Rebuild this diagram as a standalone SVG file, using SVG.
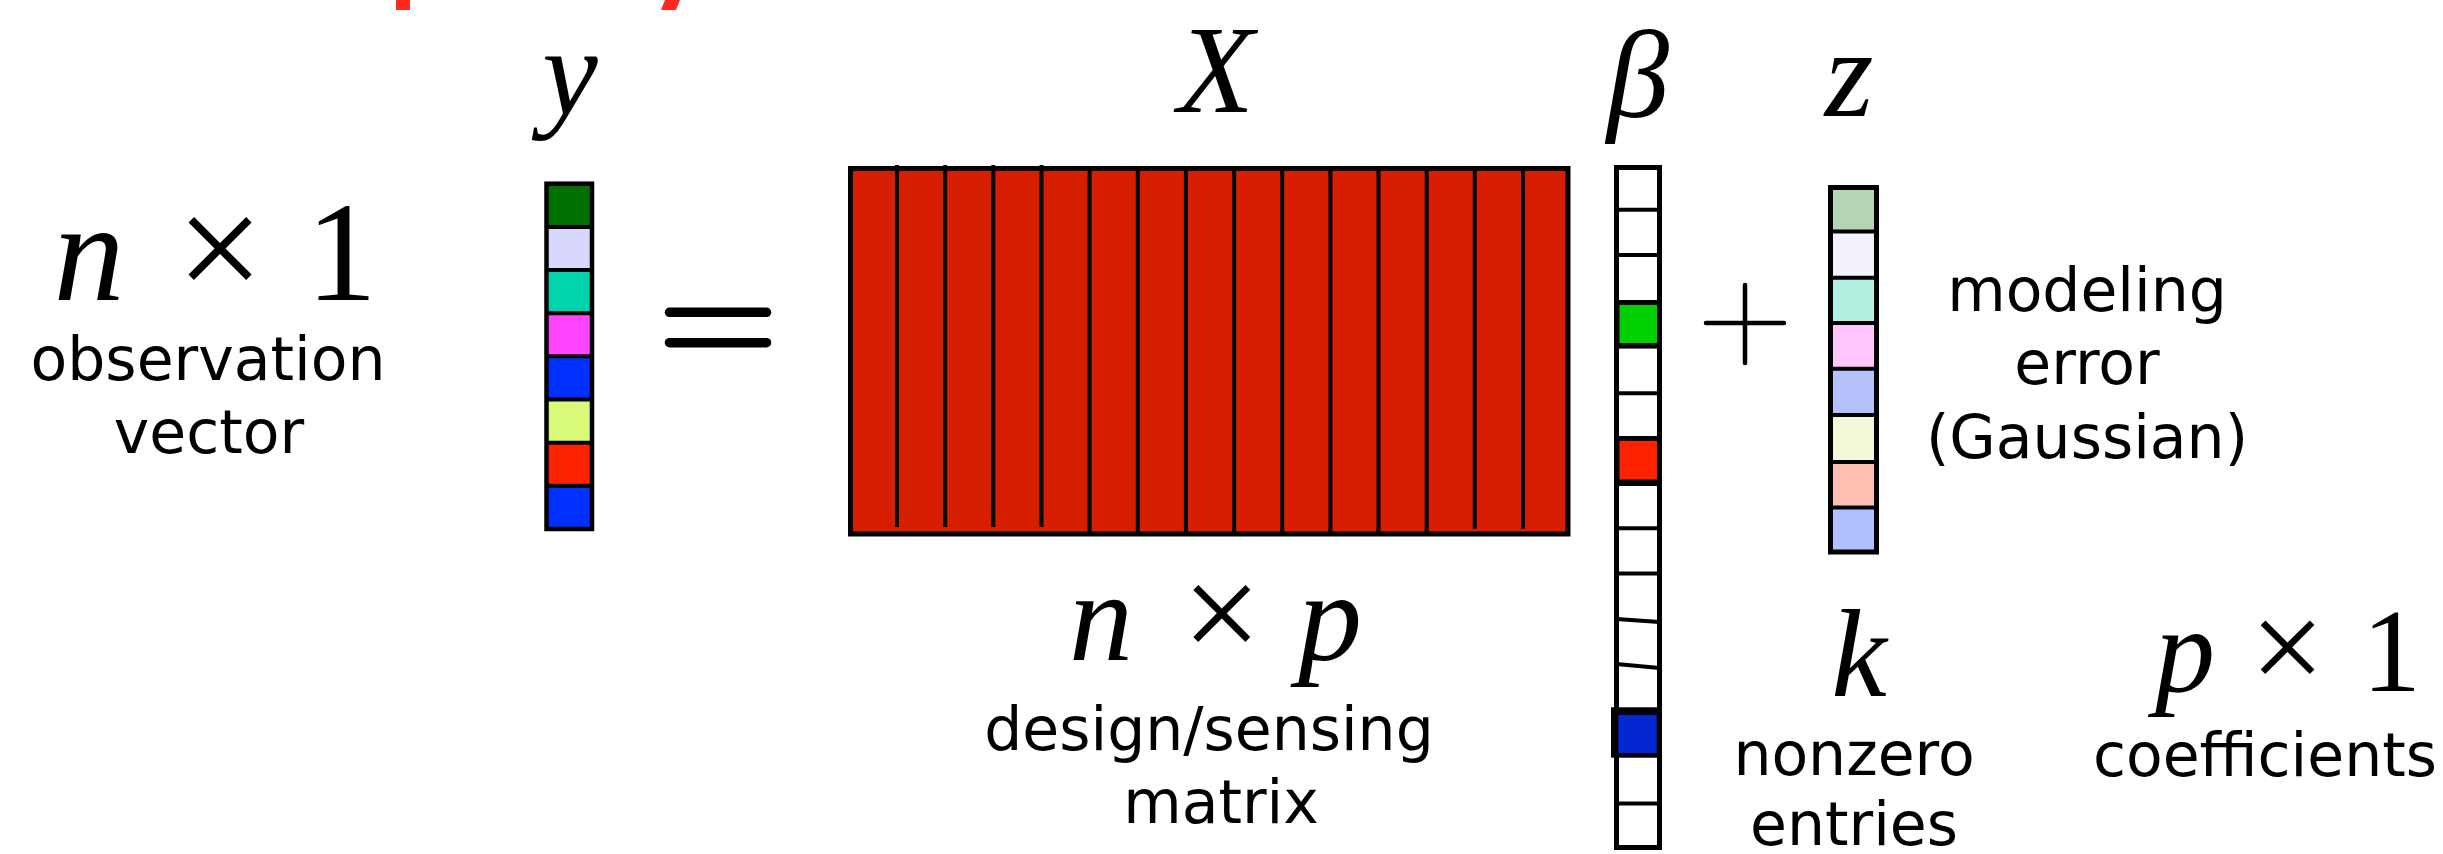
<svg xmlns="http://www.w3.org/2000/svg" width="2443" height="854" viewBox="0 0 2443 854">
<style>
.math{font-family:"Liberation Serif","Times New Roman",serif;font-style:italic;fill:#000}
.up{font-family:"Liberation Serif","Times New Roman",serif;font-style:normal;fill:#000}
.lbl{font-family:"DejaVu Sans",Verdana,sans-serif;font-size:60px;fill:#000;text-anchor:middle}
.bd{fill:none;stroke:#000}
.dv{stroke:#000;stroke-width:4}
.op{stroke:#000;stroke-linecap:round;fill:none}
</style>
<rect width="2443" height="854" fill="#fff"/>
<g id="title-fragments" fill="#ff2a1f">
<rect x="396" y="0" width="14" height="10"/>
<polygon points="665,0 680,0 676,10 661,10"/>
</g>
<g id="y-vector">
<rect x="546.5" y="183.7" width="45.5" height="43.2" fill="#007000"/>
<rect x="546.5" y="226.9" width="45.5" height="43.2" fill="#d8d8ff"/>
<rect x="546.5" y="270.0" width="45.5" height="43.2" fill="#00d4ac"/>
<rect x="546.5" y="313.2" width="45.5" height="43.2" fill="#ff44ff"/>
<rect x="546.5" y="356.3" width="45.5" height="43.2" fill="#0030ff"/>
<rect x="546.5" y="399.5" width="45.5" height="43.2" fill="#d8fa78"/>
<rect x="546.5" y="442.7" width="45.5" height="43.2" fill="#ff2200"/>
<rect x="546.5" y="485.8" width="45.5" height="43.2" fill="#0030ff"/>
<line class="dv" x1="546.5" y1="226.9" x2="592" y2="226.9"/>
<line class="dv" x1="546.5" y1="270.0" x2="592" y2="270.0"/>
<line class="dv" x1="546.5" y1="313.2" x2="592" y2="313.2"/>
<line class="dv" x1="546.5" y1="356.3" x2="592" y2="356.3"/>
<line class="dv" x1="546.5" y1="399.5" x2="592" y2="399.5" stroke-width="7"/>
<line class="dv" x1="546.5" y1="442.7" x2="592" y2="442.7"/>
<line class="dv" x1="546.5" y1="485.8" x2="592" y2="485.8"/>
<rect class="bd" x="546.5" y="183.7" width="45.5" height="345.3" stroke-width="4.5"/>
<text class="math" x="570" y="114" font-size="125" text-anchor="middle">y</text>
</g>
<g id="y-label">
<text class="math" x="89" y="300" font-size="142" text-anchor="middle">n</text>
<text class="up" x="220" y="300" font-size="155" text-anchor="middle">×</text>
<text class="up" x="341.5" y="300" font-size="142" text-anchor="middle">1</text>
<text class="lbl" x="208" y="380">observation</text>
<text class="lbl" x="209" y="453">vector</text>
</g>
<g id="equals">
<line class="op" x1="669.5" y1="312.3" x2="766.5" y2="312.3" stroke-width="9.5"/>
<line class="op" x1="669.5" y1="342.7" x2="766.5" y2="342.7" stroke-width="9.5"/>
</g>
<g id="X-matrix">
<rect x="850.5" y="168.5" width="717.5" height="365.5" fill="#d81e00" stroke="#000" stroke-width="5"/>
<g class="dv">
<line x1="897" y1="165" x2="897" y2="527"/>
<line x1="945.2" y1="165" x2="945.2" y2="527"/>
<line x1="993.3" y1="165" x2="993.3" y2="527"/>
<line x1="1041.5" y1="165" x2="1041.5" y2="527"/>
<line x1="1089.6" y1="168.5" x2="1089.6" y2="534"/>
<line x1="1137.8" y1="168.5" x2="1137.8" y2="534"/>
<line x1="1185.9" y1="168.5" x2="1185.9" y2="534"/>
<line x1="1234.1" y1="168.5" x2="1234.1" y2="534"/>
<line x1="1282.2" y1="168.5" x2="1282.2" y2="534"/>
<line x1="1330.4" y1="168.5" x2="1330.4" y2="534"/>
<line x1="1378.5" y1="168.5" x2="1378.5" y2="534"/>
<line x1="1426.7" y1="168.5" x2="1426.7" y2="534"/>
<line x1="1474.8" y1="168.5" x2="1474.8" y2="529"/>
<line x1="1523" y1="168.5" x2="1523" y2="529"/>
</g>
<text class="math" x="1216" y="111.7" font-size="125" text-anchor="middle">X</text>
</g>
<g id="X-label">
<text class="math" x="1101" y="660" font-size="128" text-anchor="middle">n</text>
<text class="up" x="1221.7" y="660" font-size="140" text-anchor="middle">×</text>
<text class="math" x="1330" y="660" font-size="128" text-anchor="middle">p</text>
<text class="lbl" x="1209" y="750">design/sensing</text>
<text class="lbl" x="1221" y="823">matrix</text>
</g>
<g id="beta-vector">
<rect x="1616.5" y="167.5" width="43" height="680" fill="#fff"/>
<rect x="1614" y="300" width="48" height="48.6" fill="#000"/>
<rect x="1619.5" y="305" width="38.5" height="38" fill="#00d000"/>
<rect x="1614" y="436" width="48" height="50" fill="#000"/>
<rect x="1619.5" y="441" width="38.5" height="38.5" fill="#ff2200"/>
<g class="dv">
<line x1="1616.5" y1="209.7" x2="1659.5" y2="209.7"/>
<line x1="1616.5" y1="254.9" x2="1659.5" y2="254.9"/>
<line x1="1616.5" y1="393.2" x2="1659.5" y2="393.2"/>
<line x1="1616.5" y1="528.3" x2="1659.5" y2="528.3"/>
<line x1="1616.5" y1="573.5" x2="1659.5" y2="573.5"/>
<line x1="1616.5" y1="619" x2="1659.5" y2="622"/>
<line x1="1616.5" y1="664" x2="1659.5" y2="668"/>
<line x1="1616.5" y1="803.4" x2="1659.5" y2="803.4"/>
</g>
<rect class="bd" x="1616.5" y="167.5" width="43" height="680" stroke-width="5"/>
<rect x="1611" y="707.3" width="49" height="50.4" fill="#000"/>
<rect x="1618.3" y="715" width="38.4" height="38.3" fill="#0426d0"/>
<text class="math" x="1638" y="117" font-size="125" text-anchor="middle">β</text>
</g>
<g id="beta-label">
<text class="math" x="1859" y="696" font-size="125" text-anchor="middle">k</text>
<text class="lbl" x="1854" y="775">nonzero</text>
<text class="lbl" x="1854" y="845">entries</text>
<text class="math" x="2185" y="691" font-size="120" text-anchor="middle">p</text>
<text class="up" x="2287.5" y="691" font-size="132" text-anchor="middle">×</text>
<text class="up" x="2391.4" y="691" font-size="118" text-anchor="middle">1</text>
<text class="lbl" x="2265" y="776">coefficients</text>
</g>
<g id="plus">
<line class="op" x1="1706" y1="323" x2="1784" y2="323" stroke-width="4.5"/>
<line class="op" x1="1745" y1="285" x2="1745" y2="363" stroke-width="4.5"/>
</g>
<g id="z-vector">
<rect x="1830.5" y="187.5" width="46" height="44" fill="#b5d6b5"/>
<rect x="1830.5" y="231.5" width="46" height="46.3" fill="#f2f2fd"/>
<rect x="1830.5" y="277.8" width="46" height="45.2" fill="#b3f0e2"/>
<rect x="1830.5" y="323" width="46" height="45.7" fill="#ffc6fe"/>
<rect x="1830.5" y="368.7" width="46" height="46.3" fill="#b3c2fb"/>
<rect x="1830.5" y="415" width="46" height="46.9" fill="#f2f9d8"/>
<rect x="1830.5" y="461.9" width="46" height="45.7" fill="#febfb2"/>
<rect x="1830.5" y="507.6" width="46" height="44.4" fill="#b0bffd"/>
<g class="dv">
<line x1="1830.5" y1="231.5" x2="1876.5" y2="231.5"/>
<line x1="1830.5" y1="277.8" x2="1876.5" y2="277.8"/>
<line x1="1830.5" y1="323" x2="1876.5" y2="323"/>
<line x1="1830.5" y1="368.7" x2="1876.5" y2="368.7"/>
<line x1="1830.5" y1="415" x2="1876.5" y2="415"/>
<line x1="1830.5" y1="461.9" x2="1876.5" y2="461.9"/>
<line x1="1830.5" y1="507.6" x2="1876.5" y2="507.6"/>
</g>
<rect class="bd" x="1830.5" y="187.5" width="46" height="364.5" stroke-width="5"/>
<text class="math" x="1849" y="116" font-size="125" text-anchor="middle">z</text>
</g>
<g id="z-label">
<text class="lbl" x="2087" y="310.5">modeling</text>
<text class="lbl" x="2087" y="384">error</text>
<text class="lbl" x="2087" y="457.5">(Gaussian)</text>
</g>
<g id="connectors"/>
</svg>
